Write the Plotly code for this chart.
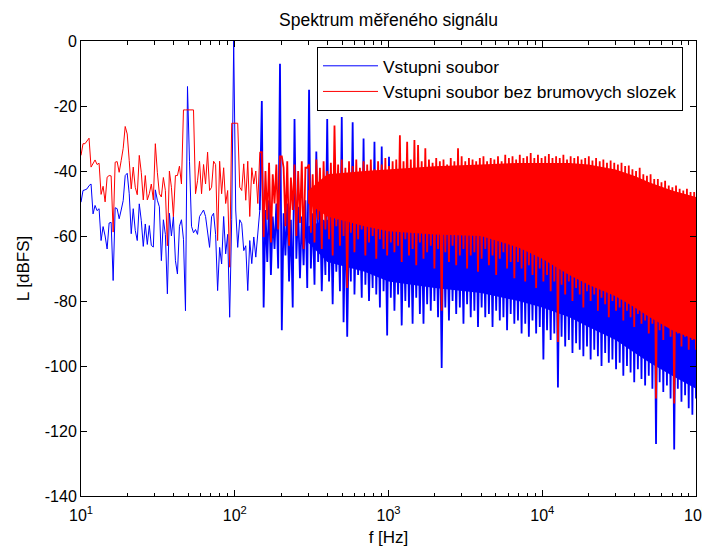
import numpy as np
import plotly.graph_objects as go

# ---------------- data (levels in dBFS) ----------------
F_MIN, F_SPLIT, F_MAX = 10.0, 150.0, 100000.0
N_LOW = 90          # points of the sparse low-frequency part (10 .. 150 Hz)
N_PAIRS = 120       # (peak, trough) pairs of the dense part (150 Hz .. 100 kHz)

series_names = ["Vstupni soubor", "Vstupni soubor bez brumovych slozek"]

# low-frequency part, 10 .. 150 Hz
blue_low = [
    -49.6, -46.0, -45.8, -45.5, -44.5, -44.0, -53.2, -50.6, -52.2, -51.6,
    -61.4, -57.1, -60.0, -64.0, -56.0, -55.8, -73.7, -51.3, -51.6, -54.7,
    -52.0, -49.1, -41.4, -40.7, -47.0, -59.3, -51.6, -58.3, -61.4, -50.1,
    -55.2, -63.2, -56.3, -62.6, -56.8, -62.9, -63.4, -45.8, -49.0, -51.0,
    -67.6, -55.0, -59.5, -77.8, -53.0, -60.0, -54.0, -67.6, -71.7, -57.0,
    -55.0, -61.0, -83.0, -14.0, -37.0, -57.0, -59.0, -58.0, -59.5, -54.0,
    -53.0, -52.0, -54.0, -59.5, -63.5, -54.0, -53.0, -59.5, -76.8, -63.5,
    -68.6, -54.0, -65.5, -59.5, -85.0, -55.0, 0.0, -52.0, -63.5, -55.0,
    -56.2, -64.5, -63.0, -76.8, -61.4, -68.5, -60.3, -66.5, -58.0, -52.0,
]
red_low = [
    -35.2, -31.6, -31.6, -30.8, -29.9, -38.8, -37.5, -36.6, -38.0, -37.6,
    -47.2, -44.7, -49.5, -41.9, -41.4, -41.5, -58.8, -37.3, -37.1, -40.4,
    -36.8, -33.0, -26.3, -28.6, -36.8, -45.5, -38.8, -45.0, -47.3, -35.2,
    -40.4, -48.9, -41.4, -48.9, -47.0, -44.0, -48.9, -31.6, -40.4, -47.0,
    -48.0, -42.0, -46.0, -63.0, -40.0, -45.0, -54.0, -41.4, -41.4, -38.5,
    -44.0, -21.2, -21.2, -21.2, -21.2, -21.2, -21.2, -47.0, -43.0, -37.0,
    -47.0, -38.0, -44.0, -34.2, -46.0, -45.0, -37.0, -38.0, -61.4, -37.0,
    -47.0, -39.0, -50.0, -46.0, -69.6, -25.3, -25.3, -25.3, -25.3, -45.0,
    -46.0, -37.8, -49.0, -37.0, -54.0, -39.0, -44.0, -40.0, -50.0, -34.2,
]

# dense part, 150 Hz .. 100 kHz: successive peaks and troughs of the trace
blue_hi = [
    -18.5, -52.0, -49.0, -54.0, -50.0, -7.0, -53.0, -50.0, -55.0, -24.0,
    -51.0, -54.0, -49.0, -15.0, -53.0, -34.0, -51.0, -55.0, -24.0, -52.0,
    -50.0, -54.0, -23.4, -52.0, -55.0, -25.0, -51.0, -54.0, -30.0, -52.0,
    -55.0, -31.0, -53.0, -32.5, -54.0, -35.6, -52.0, -55.0, -51.0, -54.0,
    -52.0, -56.0, -50.0, -53.0, -55.0, -51.0, -54.0, -52.0, -56.0, -53.0,
    -51.0, -55.0, -53.0, -52.0, -56.0, -54.0, -51.0, -55.0, -53.0, -52.0,
    -56.0, -54.0, -52.0, -55.0, -53.0, -56.0, -52.0, -54.0, -55.0, -53.0,
    -56.0, -54.0, -52.0, -55.0, -57.0, -53.0, -55.0, -56.0, -54.0, -57.0,
    -55.0, -53.0, -56.0, -58.0, -54.0, -56.0, -55.0, -57.0, -54.0, -56.0,
    -58.0, -55.0, -57.0, -56.0, -58.0, -55.0, -57.0, -59.0, -56.0, -58.0,
    -57.0, -59.0, -56.0, -58.0, -60.0, -57.0, -59.0, -58.0, -60.0, -57.0,
    -59.0, -61.0, -58.0, -60.0, -59.0, -61.0, -60.0, -62.0, -59.0, -61.0,
]
blue_lo = [
    -82.0, -68.0, -72.0, -64.0, -70.0, -89.0, -66.0, -74.0, -82.0, -67.0,
    -73.0, -69.0, -76.0, -70.0, -75.0, -68.0, -77.0, -72.0, -74.0, -81.0,
    -71.0, -77.0, -86.5, -91.0, -74.0, -78.0, -72.0, -79.0, -75.0, -80.0,
    -76.0, -78.0, -82.0, -77.0, -90.6, -79.0, -83.0, -78.0, -87.5, -80.0,
    -82.0, -87.0, -79.0, -84.0, -87.0, -81.0, -83.0, -80.0, -85.0, -100.6,
    -82.0, -86.0, -80.0, -84.0, -82.0, -87.0, -81.0, -85.0, -83.0, -88.0,
    -82.0, -85.0, -84.0, -88.0, -83.0, -86.0, -85.0, -89.0, -84.0, -87.0,
    -86.0, -90.0, -87.0, -91.0, -86.0, -90.0, -88.0, -98.0, -89.0, -92.0,
    -90.0, -106.6, -91.0, -94.0, -92.0, -96.0, -93.0, -95.0, -97.0, -94.0,
    -98.0, -95.0, -97.0, -100.0, -96.0, -99.0, -98.0, -101.0, -99.0, -103.0,
    -100.0, -102.0, -105.0, -101.0, -104.0, -106.0, -103.0, -107.0, -124.0, -105.0,
    -108.0, -106.0, -110.0, -125.7, -107.0, -111.0, -109.0, -113.0, -115.0, -110.0,
]
red_hi = [
    -34.2, -40.0, -37.5, -41.0, -38.0, -35.5, -39.0, -37.0, -42.0, -38.0,
    -40.0, -37.0, -39.0, -38.0, -41.0, -36.5, -39.0, -37.0, -40.0, -37.5,
    -26.0, -38.0, -36.5, -39.0, -37.0, -38.5, -36.5, -39.0, -37.0, -38.0,
    -36.5, -39.5, -37.0, -38.0, -36.0, -38.5, -37.0, -36.5, -29.0, -37.0,
    -31.0, -36.5, -30.5, -32.0, -37.0, -33.0, -36.5, -37.5, -36.0, -37.0,
    -36.5, -38.0, -36.0, -37.0, -33.0, -35.5, -37.0, -36.0, -36.5, -37.0,
    -36.0, -35.5, -37.0, -36.0, -36.5, -35.5, -37.0, -35.0, -36.0, -35.5,
    -36.5, -35.0, -36.0, -35.5, -34.5, -36.0, -35.0, -36.0, -35.5, -34.8,
    -36.0, -35.5, -36.0, -35.0, -36.5, -35.5, -36.0, -35.5, -36.5, -36.0,
    -35.5, -36.8, -36.0, -37.0, -36.5, -37.5, -36.8, -37.5, -38.0, -37.5,
    -38.5, -38.3, -39.5, -40.0, -39.0, -41.0, -41.5, -41.0, -42.5, -42.5,
    -43.5, -43.0, -44.5, -45.0, -44.5, -45.5, -46.0, -45.5, -46.5, -46.5,
]
red_lo = [
    -60.3, -55.0, -62.0, -50.0, -58.0, -35.5, -57.0, -63.0, -52.0, -60.0,
    -56.0, -64.0, -39.0, -59.0, -62.0, -55.0, -64.0, -58.0, -61.0, -66.0,
    -57.0, -63.0, -60.0, -76.0, -59.0, -65.0, -61.0, -58.0, -66.0, -62.0,
    -60.0, -67.0, -61.0, -64.0, -66.0, -62.0, -65.0, -63.0, -68.0, -61.0,
    -66.0, -64.0, -69.0, -62.0, -67.0, -65.0, -63.0, -70.0, -64.0, -83.0,
    -65.0, -68.0, -63.0, -69.0, -66.0, -64.0, -70.0, -66.0, -65.0, -71.0,
    -67.0, -64.0, -69.0, -66.0, -72.0, -67.0, -65.0, -70.0, -68.0, -73.0,
    -68.0, -70.0, -74.0, -69.0, -72.0, -76.0, -70.0, -74.0, -72.0, -77.0,
    -74.0, -92.6, -75.0, -78.0, -74.0, -80.0, -76.0, -78.0, -82.0, -77.0,
    -80.0, -78.0, -83.0, -79.0, -81.0, -85.0, -80.0, -83.0, -82.0, -86.0,
    -83.0, -85.0, -88.0, -84.0, -87.0, -86.0, -90.0, -87.0, -110.0, -89.0,
    -92.0, -88.0, -91.0, -111.5, -90.0, -94.0, -91.0, -95.0, -92.0, -95.0,
]

# solid core of the dense band (where the trace fills every pixel)
core_freq = [300, 400, 700, 1000, 2000, 4000, 7000, 10000, 15000, 20000,
             30000, 40000, 50000, 70000, 100000]
red_core_top = [-46.0, -41.0, -40.0, -39.5, -38.5, -38.0, -37.5, -37.5, -37.5, -38.0,
                -39.5, -41.5, -43.5, -46.0, -48.0]
red_core_bottom = [-50.0, -54.0, -57.0, -58.5, -59.5, -60.0, -63.5, -67.0, -72.0, -75.0,
                   -78.5, -82.0, -85.0, -89.0, -92.0]
blue_core_top = [-57.0, -55.0, -55.0, -55.0, -55.0, -55.0, -56.0, -56.0, -57.0, -57.0,
                 -58.0, -58.0, -59.0, -60.0, -60.0]
blue_core_bottom = [-62.0, -68.0, -71.0, -74.0, -76.0, -77.5, -80.0, -82.0, -85.0, -88.0,
                    -92.0, -96.0, -99.0, -103.0, -107.0]

y_tick_values = [0, -20, -40, -60, -80, -100, -120, -140]
y_tick_labels = ["0", "-20", "-40", "-60", "-80", "-100", "-120", "-140"]
x_tick_values = [10, 100, 1000, 10000, 100000]
x_tick_labels = ["10<sup>1</sup>", "10<sup>2</sup>", "10<sup>3</sup>",
                 "10<sup>4</sup>", "10<sup>5</sup>"]

# ---------------- frequency grids ----------------
freq_low = F_MIN * (F_SPLIT / F_MIN) ** (np.arange(N_LOW) / N_LOW)
freq_dense = np.geomspace(F_SPLIT, F_MAX, 2 * N_PAIRS)


def zigzag(hi, lo):
    out = []
    for a, b in zip(hi, lo):
        out.extend([a, b])
    return out


BLUE, RED = "#0000ff", "#ff0000"
FONT = "Liberation Sans, Arial, Helvetica, sans-serif"

fig = go.Figure()
for name, color, low, hi, lo, ctop, cbot, grp in [
    (series_names[0], BLUE, blue_low, blue_hi, blue_lo, blue_core_top, blue_core_bottom, "b"),
    (series_names[1], RED, red_low, red_hi, red_lo, red_core_top, red_core_bottom, "r"),
]:
    dense = zigzag(hi, lo)
    fig.add_trace(go.Scatter(x=freq_low, y=low, mode="lines", name=name,
                             legendgroup=grp, line=dict(color=color, width=1)))
    fig.add_trace(go.Scatter(x=list(core_freq) + list(core_freq[::-1]),
                             y=list(ctop) + list(cbot[::-1]), mode="lines",
                             fill="toself", fillcolor=color, line=dict(width=0),
                             legendgroup=grp, showlegend=False, hoverinfo="skip"))
    fig.add_trace(go.Scatter(x=np.concatenate([[freq_low[-1]], freq_dense]),
                             y=[low[-1]] + dense, mode="lines",
                             legendgroup=grp, showlegend=False,
                             line=dict(color=color, width=1.8)))

minor_vals = [m * 10 ** e for e in range(1, 5) for m in range(2, 10)]

# the page body adds an 8 px offset, so the figure is 8 px smaller and margins shifted
fig.update_layout(
    width=702, height=543,
    margin=dict(l=73, r=14, t=33, b=55),
    paper_bgcolor="white", plot_bgcolor="white",
    font=dict(family=FONT, size=16, color="black"),
    title=dict(text="Spektrum měřeného signálu", x=0.5, xref="paper", xanchor="center",
               y=1 - 12 / 543, yanchor="middle", yref="container",
               font=dict(size=17.5, color="black")),
    showlegend=True,
    legend=dict(x=(317 - 81) / 615, y=1 - (47 - 41) / 455, xanchor="left", yanchor="top",
                bordercolor="black", borderwidth=1, bgcolor="white",
                font=dict(size=17.4, color="black"), itemwidth=55, tracegroupgap=0),
)
fig.update_xaxes(
    type="log", range=[1, 5], tickmode="array", tickvals=x_tick_values,
    ticktext=x_tick_labels, ticks="inside", ticklen=6, tickcolor="black",
    showline=True, linecolor="black", linewidth=1, mirror="allticks",
    showgrid=False, zeroline=False, tickfont=dict(size=16), automargin=False,
    ticklabelstandoff=5,
    minor=dict(tickmode="array", tickvals=minor_vals, ticks="inside", ticklen=3.5,
               tickcolor="black", showgrid=False),
    title=dict(text="f [Hz]", font=dict(size=17), standoff=7),
)
fig.update_yaxes(
    range=[-140, 0], tickmode="array", tickvals=y_tick_values, ticktext=y_tick_labels,
    ticks="inside", ticklen=6, tickcolor="black", automargin=False,
    showline=True, linecolor="black", linewidth=1, mirror="allticks",
    showgrid=False, zeroline=False, tickfont=dict(size=16),
    title=dict(text="L [dBFS]", font=dict(size=17), standoff=10),
)

fig.write_html("out.html")
